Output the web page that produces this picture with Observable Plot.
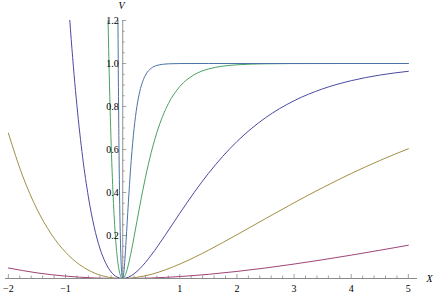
<!DOCTYPE html>
<html>
<head>
<meta charset="utf-8">
<script src="https://cdn.jsdelivr.net/npm/d3@7"></script>
<script src="https://cdn.jsdelivr.net/npm/@observablehq/plot@0.6"></script>
<style>
  html, body { margin: 0; padding: 0; background: #fff; }
  #chart { width: 436px; height: 295px; }
  #chart svg text { font-family: "Liberation Serif", "DejaVu Serif", serif !important; }
</style>
</head>
<body>
<div id="chart"></div>
<script>
// Series (x, V)
const purpleX = [-2, -1.5, -1, -0.5, 0, 0.5, 1, 1.5, 2, 2.5, 3, 3.5, 4, 4.5, 5];
const purpleV = [0.049, 0.0262, 0.0111, 0.0026, 0, 0.0024, 0.0091, 0.0194, 0.0329, 0.0489, 0.0672, 0.0872, 0.1087, 0.1313, 0.1548];

const goldX = [-2, -1.75, -1.5, -1.25, -1, -0.75, -0.5, -0.25, 0, 0.5, 1, 1.5, 2, 2.5, 3, 3.5, 4, 4.5, 5];
const goldV = [0.676, 0.477, 0.323, 0.207, 0.1224, 0.0637, 0.0262, 0.0061, 0, 0.0194, 0.0672, 0.1313, 0.2036, 0.2784, 0.3522, 0.4226, 0.4883, 0.5487, 0.6035];

const blueX = [-0.95, -0.9, -0.8, -0.7, -0.6, -0.5, -0.4, -0.3, -0.2, -0.1, 0, 0.1, 0.2, 0.3, 0.4, 0.5, 0.75, 1, 1.25, 1.5, 1.75, 2, 2.5, 3, 3.5, 4, 4.5, 5];
const blueV = [1.296, 1.112, 0.804, 0.564, 0.380, 0.242, 0.142, 0.0736, 0.0301, 0.0069, 0, 0.0059, 0.0219, 0.0455, 0.075, 0.1087, 0.2036, 0.3032, 0.3996, 0.4883, 0.5676, 0.637, 0.7477, 0.8268, 0.8821, 0.9201, 0.9462, 0.9637];

const greenX = [-0.3, -0.28, -0.26, -0.24, -0.22, -0.2, -0.16, -0.12, -0.08, -0.04, 0, 0.04, 0.08, 0.12, 0.16, 0.2, 0.3, 0.4, 0.5, 0.6, 0.7, 0.8, 1, 1.25, 1.5, 1.75, 2, 2.5, 3, 4, 5];
const greenV = [1.923, 1.569, 1.267, 1.011, 0.797, 0.618, 0.349, 0.173, 0.0682, 0.0151, 0, 0.012, 0.0429, 0.0864, 0.1378, 0.1937, 0.3376, 0.4713, 0.5859, 0.6798, 0.7546, 0.8131, 0.893, 0.9475, 0.9744, 0.9875, 0.9939, 0.9986, 0.9997, 1, 1];

const steepX = [-0.1, -0.09, -0.08, -0.07, -0.06, -0.05, -0.04, -0.03, -0.02, -0.01, 0, 0.02, 0.04, 0.06, 0.08, 0.1, 0.12, 0.15, 0.2, 0.25, 0.3, 0.35, 0.4, 0.5, 0.6, 0.7, 0.8, 1, 1.5, 5];
const steepV = [2.13, 1.557, 1.112, 0.77, 0.513, 0.323, 0.188, 0.0961, 0.0389, 0.0089, 0, 0.0271, 0.0914, 0.1741, 0.2634, 0.3522, 0.4361, 0.5487, 0.6967, 0.8003, 0.8701, 0.9161, 0.9462, 0.9779, 0.991, 0.9963, 0.9985, 0.9998, 1, 1];

const xTickLabels = [-2, -1, 1, 2, 3, 4, 5];
const yTickLabels = [0.2, 0.4, 0.6, 0.8, 1.0, 1.2];

const colors = {
  blue: "#4a4aa3",
  purple: "#a04477",
  gold: "#a08f45",
  green: "#48a260",
  steep: "#4a73a3"
};

const pts = (xs, vs) => xs.map((x, i) => ({x, v: vs[i]}));

const xMinor = d3.range(-2, 5.0001, 0.2).map(d => Math.round(d * 10) / 10).filter(d => !xTickLabels.includes(d) && Math.abs(d) > 1e-9);
const yMinor = d3.range(0.05, 1.2001, 0.05).map(d => Math.round(d * 100) / 100).filter(d => !yTickLabels.some(t => Math.abs(t - d) < 1e-9));

const serif = "'Liberation Serif', 'DejaVu Serif', serif";
const axisGray = "#8a8a8a";

const chart = Plot.plot({
  width: 436,
  height: 295,
  marginLeft: 5,
  marginRight: 19,
  marginTop: 20,
  marginBottom: 17,
  style: {fontFamily: serif, fontSize: "10px", background: "#fff"},
  x: {domain: [-2.05, 5.16], axis: null},
  y: {domain: [0, 1.2], axis: null},
  marks: [
    // axes
    Plot.ruleY([0], {x1: -2.05, x2: 5.16, stroke: axisGray, strokeWidth: 1}),
    Plot.ruleX([0], {y1: 0, y2: 1.2, stroke: "#aaaaaa", strokeWidth: 1.3}),
    // x ticks (pointing up)
    Plot.ruleX(xTickLabels, {x: d => d, y1: 0, y2: 4 / 258 * 1.2, stroke: axisGray, strokeWidth: 0.8}),
    Plot.ruleX(xMinor, {x: d => d, y1: 0, y2: 2.5 / 258 * 1.2, stroke: axisGray, strokeWidth: 0.8}),
    // y ticks (pointing right)
    Plot.ruleY(yTickLabels, {y: d => d, x1: 0, x2: 4 / 412 * 7.21, stroke: axisGray, strokeWidth: 0.8}),
    Plot.ruleY(yMinor, {y: d => d, x1: 0, x2: 2.5 / 412 * 7.21, stroke: axisGray, strokeWidth: 0.8}),
    // curves
    Plot.line(pts(purpleX, purpleV), {x: "x", y: "v", stroke: colors.purple, strokeWidth: 1, curve: "monotone-x", clip: true}),
    Plot.line(pts(goldX, goldV), {x: "x", y: "v", stroke: colors.gold, strokeWidth: 1, curve: "monotone-x", clip: true}),
    Plot.line(pts(blueX, blueV), {x: "x", y: "v", stroke: colors.blue, strokeWidth: 1, curve: "monotone-x", clip: true}),
    Plot.line(pts(greenX, greenV), {x: "x", y: "v", stroke: colors.green, strokeWidth: 1, curve: "monotone-x", clip: true}),
    Plot.line(pts(steepX, steepV), {x: "x", y: "v", stroke: colors.steep, strokeWidth: 1, curve: "monotone-x", clip: true}),
    // tick labels
    Plot.text(xTickLabels, {x: d => d, y: 0, text: d => d < 0 ? "\u2212" + Math.abs(d) : String(d), dy: 10, fill: "#000", fontSize: 10, fontFamily: serif, lineAnchor: "middle"}),
    Plot.text(yTickLabels, {x: 0, y: d => d, text: d => d.toFixed(1), dx: -4, textAnchor: "end", fill: "#000", fontSize: 10, fontFamily: serif, lineAnchor: "middle"}),
    // axis labels
    Plot.text(["V"], {x: 0, y: 1.2, text: d => d, dx: -1, dy: -15, fill: "#000", fontSize: 10, fontStyle: "italic", fontFamily: serif, lineAnchor: "middle"}),
    Plot.text(["X"], {x: 5.16, y: 0, text: d => d, dx: 9, textAnchor: "start", fill: "#000", fontSize: 10, fontStyle: "italic", fontFamily: serif, lineAnchor: "middle"})
  ]
});

document.getElementById("chart").appendChild(chart);
</script>
</body>
</html>
